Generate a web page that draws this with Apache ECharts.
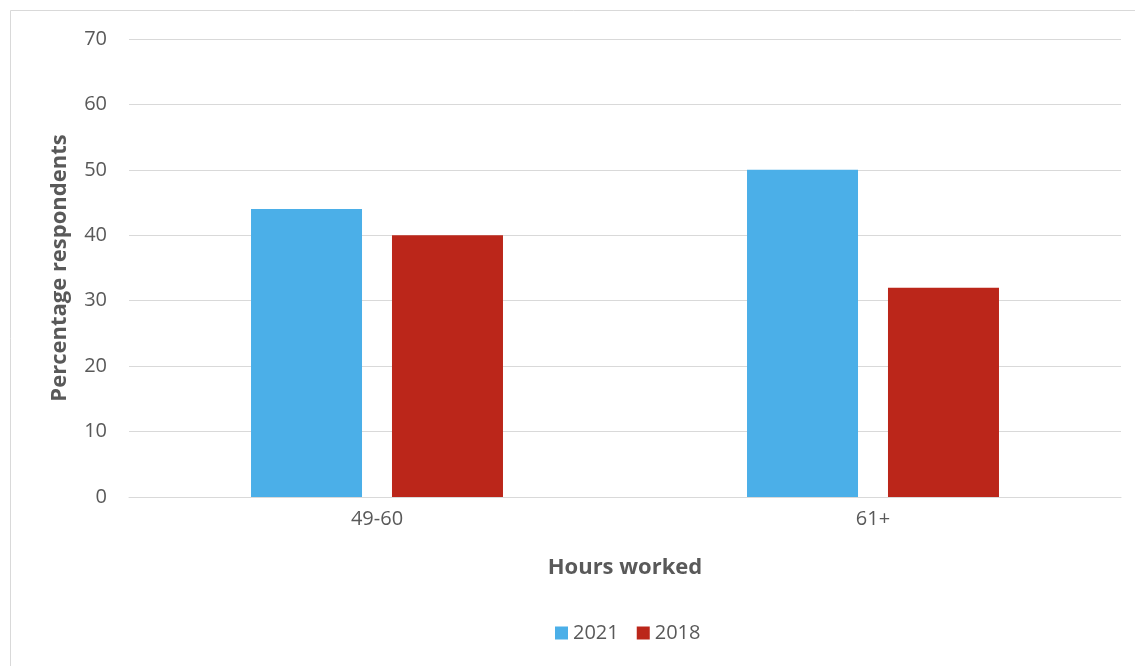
<!DOCTYPE html>
<html><head><meta charset="utf-8">
<script src="https://cdn.jsdelivr.net/npm/echarts@6/dist/echarts.min.js"></script>
<style>html,body{margin:0;padding:0;background:#fff}#c{width:1135px;height:666px}</style>
</head><body><div id="c"></div>
<script>
const categories = ['49-60', '61+'];
const seriesNames = ['2021', '2018'];
const values2021 = [44, 50];
const values2018 = [40, 32];
const colors = ['#4BAFE8', '#BB261A'];
const font = '"Open Sans", "Liberation Sans", sans-serif';
const chart = echarts.init(document.getElementById('c'), null, {renderer: 'canvas'});
chart.setOption({
  animation: false,
  backgroundColor: '#fff',
  textStyle: {fontFamily: font},
  graphic: [{type: 'rect', shape: {x: 10.5, y: 10.5, width: 1200, height: 700}, style: {fill: 'none', stroke: '#d9d9d9', lineWidth: 1}, silent: true}],
  grid: {left: 129, right: 14, top: 39, bottom: 169},
  legend: {
    data: seriesNames, top: 618, left: 550, itemWidth: 13, itemHeight: 13, itemGap: 18,
    icon: 'rect', textStyle: {fontSize: 20, color: '#595959', fontFamily: font}
  },
  xAxis: {
    type: 'category', data: categories,
    name: 'Hours worked', nameLocation: 'middle', nameGap: 60,
    nameTextStyle: {fontSize: 22, fontWeight: 'bold', color: '#595959', fontFamily: font},
    axisLine: {lineStyle: {color: '#d9d9d9', width: 1}},
    axisTick: {show: false},
    axisLabel: {fontSize: 20, color: '#595959', margin: 12}
  },
  yAxis: {
    type: 'value', min: 0, max: 70, interval: 10,
    name: 'Percentage respondents', nameLocation: 'middle', nameGap: 58,
    nameTextStyle: {fontSize: 22, fontWeight: 'bold', color: '#595959', fontFamily: font},
    axisLine: {show: false}, axisTick: {show: false},
    splitLine: {lineStyle: {color: '#d9d9d9', width: 1}},
    axisLabel: {fontSize: 20, color: '#595959', margin: 22}
  },
  series: [
    {name: seriesNames[0], type: 'bar', data: values2021, itemStyle: {color: colors[0]}, barWidth: 111, barGap: '27%'},
    {name: seriesNames[1], type: 'bar', data: values2018, itemStyle: {color: colors[1]}, barWidth: 111}
  ]
});
</script></body></html>
